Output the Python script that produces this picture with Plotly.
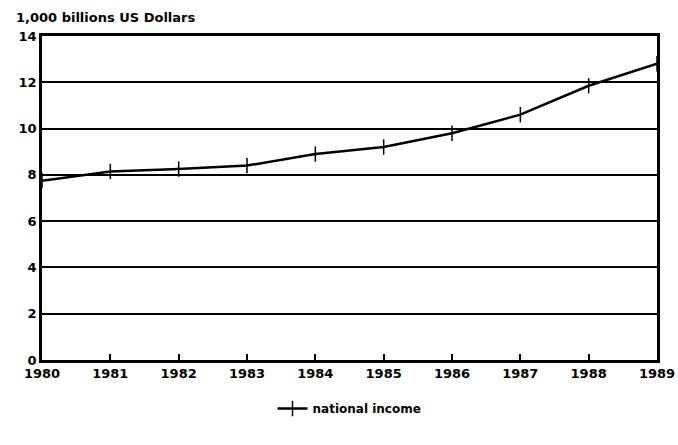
import plotly.graph_objects as go

years = [1980, 1981, 1982, 1983, 1984, 1985, 1986, 1987, 1988, 1989]
national_income = [7.75, 8.15, 8.25, 8.4, 8.9, 9.2, 9.8, 10.6, 11.85, 12.8]
y_ticks = [0, 2, 4, 6, 8, 10, 12, 14]

FAM = "DejaVu Sans"
font = dict(family=FAM, size=13, color="black")

fig = go.Figure()
fig.add_trace(go.Scatter(
    x=years, y=national_income, mode="lines+markers", name="<b>national income</b>",
    line=dict(color="black", width=2.5),
    marker=dict(symbol="line-ns", size=11, line=dict(color="black", width=1.5)),
))

fig.update_layout(
    width=678, height=445,
    margin=dict(l=42, r=21, t=36, b=85, autoexpand=False),
    paper_bgcolor="white", plot_bgcolor="white",
    font=font,
    showlegend=True,
    legend=dict(orientation="h", x=0.5, xanchor="center", y=-0.105, yanchor="top",
                font=dict(family=FAM, size=12, color="black")),
    xaxis=dict(range=[1980, 1989], tickvals=years,
               ticktext=[f"<b>{y}</b>" for y in years],
               showgrid=False, zeroline=False, automargin=False,
               showline=True, linecolor="black", linewidth=2.5, mirror=True,
               ticks="inside", ticklen=6, tickwidth=1.5, tickcolor="black"),
    yaxis=dict(range=[0, 14], tickvals=y_ticks,
               ticktext=[f"<b>{v}</b>" for v in y_ticks],
               showgrid=True, gridcolor="black", gridwidth=2, automargin=False,
               zeroline=False, showline=True, linecolor="black", linewidth=2.5,
               mirror=True, ticks=""),
    annotations=[dict(text="<b>1,000 billions US Dollars</b>", xref="paper", yref="paper",
                      x=-0.045, y=1.0, xanchor="left", yanchor="bottom", yshift=9,
                      showarrow=False, font=dict(family=FAM, size=13, color="black"))],
)

fig.write_html("out.html", config={"displayModeBar": False},
               post_script="document.body.style.margin='0';document.body.style.overflow='hidden';")
